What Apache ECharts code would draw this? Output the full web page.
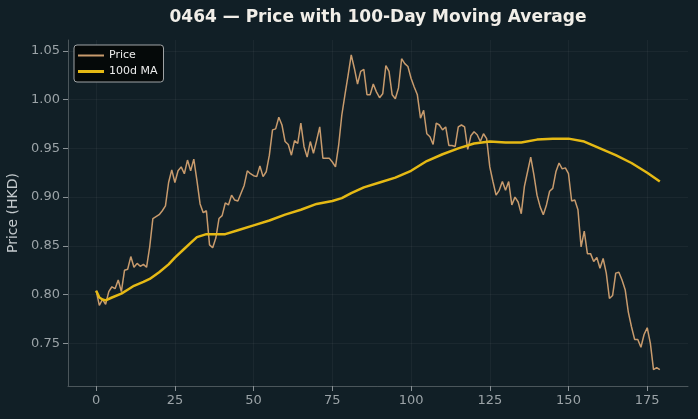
<!DOCTYPE html>
<html>
<head>
<meta charset="utf-8">
<title>0464 price</title>
<script src="https://cdn.jsdelivr.net/npm/echarts@6/dist/echarts.min.js"></script>
<style>
  html, body { margin: 0; padding: 0; background: #111f26; }
  #chart { width: 698px; height: 419px; }
</style>
</head>
<body>
<div id="chart"></div>
<script>
// daily closes, day 0..179
const price = [
  0.804, 0.789, 0.795, 0.790, 0.803, 0.808, 0.806, 0.815, 0.803, 0.825,
  0.826, 0.839, 0.828, 0.832, 0.829, 0.831, 0.828, 0.849, 0.878, 0.880,
  0.882, 0.886, 0.891, 0.915, 0.928, 0.915, 0.927, 0.931, 0.924, 0.938,
  0.927, 0.939, 0.917, 0.893, 0.884, 0.886, 0.851, 0.848, 0.858, 0.878,
  0.881, 0.894, 0.892, 0.902, 0.897, 0.896, 0.904, 0.912, 0.927, 0.924,
  0.922, 0.921, 0.932, 0.921, 0.926, 0.943, 0.969, 0.970, 0.982, 0.974,
  0.957, 0.954, 0.943, 0.958, 0.955, 0.976, 0.952, 0.941, 0.957, 0.945,
  0.958, 0.972, 0.940, 0.940, 0.940, 0.936, 0.931, 0.953, 0.984, 1.005,
  1.025, 1.046, 1.032, 1.016, 1.029, 1.031, 1.005, 1.005, 1.016, 1.008,
  1.002, 1.006, 1.035, 1.029, 1.005, 1.001, 1.012, 1.042, 1.037, 1.034,
  1.022, 1.013, 1.005, 0.981, 0.989, 0.965, 0.962, 0.954, 0.976, 0.974,
  0.969, 0.972, 0.953, 0.953, 0.952, 0.972, 0.974, 0.972, 0.949, 0.963,
  0.967, 0.964, 0.957, 0.965, 0.960, 0.931, 0.916, 0.902, 0.907, 0.916,
  0.907, 0.916, 0.892, 0.900, 0.895, 0.883, 0.911, 0.926, 0.941, 0.923,
  0.902, 0.890, 0.882, 0.892, 0.906, 0.909, 0.926, 0.935, 0.929, 0.930,
  0.924, 0.896, 0.897, 0.887, 0.849, 0.865, 0.842, 0.842, 0.834, 0.838,
  0.827, 0.837, 0.822, 0.796, 0.799, 0.822, 0.823, 0.815, 0.805, 0.782,
  0.767, 0.754, 0.754, 0.746, 0.759, 0.766, 0.750, 0.723, 0.725, 0.723
]

// 100-day moving average, read at these days
const maDays = [0, 1, 2, 3, 5, 8, 10, 12, 15, 17, 20, 23, 25, 28, 30, 32, 35, 38, 41, 45,
  50, 55, 60, 65, 70, 75, 78, 81, 85, 90, 95, 100, 105, 110, 115, 120, 125, 130, 135, 140,
  145, 150, 155, 160, 165, 170, 175, 179]
const maValues = [0.804, 0.797, 0.795, 0.794, 0.797, 0.801, 0.805, 0.809, 0.813, 0.816,
  0.823, 0.831, 0.838, 0.847, 0.853, 0.859, 0.862, 0.862, 0.862, 0.866,
  0.871, 0.876, 0.882, 0.887, 0.893, 0.896, 0.899, 0.904, 0.910, 0.915,
  0.920, 0.927, 0.937, 0.944, 0.950, 0.955, 0.957, 0.956, 0.956, 0.959,
  0.960, 0.960, 0.957, 0.950, 0.943, 0.935, 0.925, 0.916]

const xTicks = [0, 25, 50, 75, 100, 125, 150, 175]
const yTicks = [0.75, 0.80, 0.85, 0.90, 0.95, 1.00, 1.05]

const myChart = echarts.init(document.getElementById('chart'), null, { renderer: 'canvas' })

const axisColor = '#4b565b'
const gridColor = 'rgba(255,255,255,0.045)'
const labelColor = '#9ba3a7'
const priceColor = '#c89b6d'
const maColor = '#e5b914'

const option = {
  backgroundColor: '#111f26',
  animation: false,
  graphic: [{
    type: 'text',
    x: 378,
    y: 18,
    style: {
      text: '0464 \u2014 Price with 100-Day Moving Average',
      fill: '#f1eee8',
      font: 'bold 17px "DejaVu Sans"',
      textAlign: 'center',
      textVerticalAlign: 'middle'
    }
  }],
  legend: {
    left: 74,
    top: 45,
    orient: 'vertical',
    backgroundColor: '#050909',
    borderColor: '#a0a4a6',
    borderWidth: 1,
    borderRadius: 3,
    padding: [5, 6, 5, 4],
    itemGap: 5,
    itemWidth: 26,
    itemHeight: 10,
    textStyle: { color: '#ececec', fontSize: 11, fontFamily: 'DejaVu Sans' },
    data: [
      { name: 'Price', icon: 'path://M0,0 H26 V2 H0 Z' },
      { name: '100d MA', icon: 'path://M0,0 H26 V3 H0 Z' }
    ]
  },
  grid: { left: 68, right: 10, top: 40, bottom: 33, outerBoundsMode: 'none', containLabel: false },
  xAxis: {
    type: 'value',
    min: -8.95,
    max: 187.95,
    axisLine: { show: true, onZero: false, lineStyle: { color: axisColor, width: 1 } },
    axisTick: { show: true, inside: false, length: 5, customValues: xTicks, lineStyle: { color: '#8a9296' } },
    axisLabel: {
      customValues: xTicks,
      color: labelColor,
      fontSize: 13,
      fontFamily: 'DejaVu Sans',
      margin: 8
    },
    splitLine: { show: true, lineStyle: { color: gridColor, width: 1 } }
  },
  yAxis: {
    type: 'value',
    min: 0.7062,
    max: 1.0612,
    name: 'Price (HKD)',
    nameLocation: 'middle',
    nameGap: 43,
    nameTextStyle: { color: '#c4cacd', fontSize: 14, fontFamily: 'DejaVu Sans' },
    axisLine: { show: true, onZero: false, lineStyle: { color: axisColor, width: 1 } },
    axisTick: { show: true, inside: false, length: 5, customValues: yTicks, lineStyle: { color: '#8a9296' } },
    axisLabel: {
      customValues: yTicks,
      color: labelColor,
      fontSize: 13,
      fontFamily: 'DejaVu Sans',
      margin: 8,
      formatter: function(v) { return v.toFixed(2) }
    },
    splitLine: { show: true, lineStyle: { color: gridColor, width: 1 } }
  },
  series: [
    {
      name: 'Price',
      type: 'line',
      symbol: 'none',
      data: price.map(function(v, i) { return [i, v] }),
      lineStyle: { color: priceColor, width: 1.5 },
      itemStyle: { color: priceColor },
      z: 2
    },
    {
      name: '100d MA',
      type: 'line',
      symbol: 'none',
      data: maDays.map(function(d, i) { return [d, maValues[i]] }),
      lineStyle: { color: maColor, width: 2.5 },
      itemStyle: { color: maColor },
      z: 3
    }
  ]
}

option && myChart.setOption(option)
</script>
</body>
</html>
